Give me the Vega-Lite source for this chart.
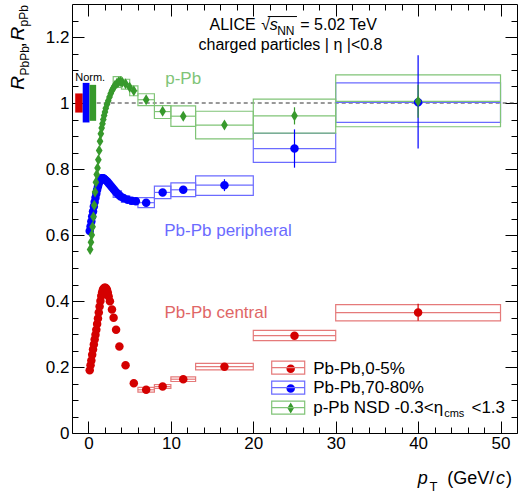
{
  "$schema": "https://vega.github.io/schema/vega-lite/v6.json",
  "width": 445,
  "height": 429,
  "autosize": {"type": "none"},
  "padding": {"left": 72, "top": 4, "right": 2, "bottom": 60},
  "config": {
    "font": "Liberation Sans",
    "view": {"stroke": "#000", "strokeWidth": 1},
    "axis": {"grid": false, "domain": false, "labels": false, "ticks": true, "tickColor": "#000", "tickWidth": 1, "labelColor": "#000", "labelFontSize": 17, "labelFont": "Liberation Sans", "titleFont": "Liberation Sans", "titleColor": "#000", "titleFontWeight": "normal", "titleAlign": "left", "titleBaseline": "alphabetic"},
    "legend": {"labelFont": "Liberation Sans", "labelColor": "#000"},
    "text": {"font": "Liberation Sans"}
  },
  "datasets": {
    "pts": [
      {"series":"Pb-Pb,0-5%","pt":0.15,"r":0.19},{"series":"Pb-Pb,0-5%","pt":0.25,"r":0.205},{"series":"Pb-Pb,0-5%","pt":0.35,"r":0.22},{"series":"Pb-Pb,0-5%","pt":0.45,"r":0.237},{"series":"Pb-Pb,0-5%","pt":0.55,"r":0.253},{"series":"Pb-Pb,0-5%","pt":0.65,"r":0.268},{"series":"Pb-Pb,0-5%","pt":0.75,"r":0.283},{"series":"Pb-Pb,0-5%","pt":0.85,"r":0.298},{"series":"Pb-Pb,0-5%","pt":0.95,"r":0.313},{"series":"Pb-Pb,0-5%","pt":1.05,"r":0.33},{"series":"Pb-Pb,0-5%","pt":1.15,"r":0.347},{"series":"Pb-Pb,0-5%","pt":1.25,"r":0.365},{"series":"Pb-Pb,0-5%","pt":1.35,"r":0.383},{"series":"Pb-Pb,0-5%","pt":1.45,"r":0.4},{"series":"Pb-Pb,0-5%","pt":1.55,"r":0.415},{"series":"Pb-Pb,0-5%","pt":1.65,"r":0.426},{"series":"Pb-Pb,0-5%","pt":1.75,"r":0.434},{"series":"Pb-Pb,0-5%","pt":1.85,"r":0.438},{"series":"Pb-Pb,0-5%","pt":1.95,"r":0.44},{"series":"Pb-Pb,0-5%","pt":2.05,"r":0.44},{"series":"Pb-Pb,0-5%","pt":2.15,"r":0.438},{"series":"Pb-Pb,0-5%","pt":2.25,"r":0.433},{"series":"Pb-Pb,0-5%","pt":2.35,"r":0.425},{"series":"Pb-Pb,0-5%","pt":2.45,"r":0.414},{"series":"Pb-Pb,0-5%","pt":2.6,"r":0.399},{"series":"Pb-Pb,0-5%","pt":2.85,"r":0.374},{"series":"Pb-Pb,0-5%","pt":3.05,"r":0.349},{"series":"Pb-Pb,0-5%","pt":3.35,"r":0.313},{"series":"Pb-Pb,0-5%","pt":3.75,"r":0.262},{"series":"Pb-Pb,0-5%","pt":4.5,"r":0.205},{"series":"Pb-Pb,0-5%","pt":5.5,"r":0.151},{"series":"Pb-Pb,0-5%","pt":7,"r":0.131},{"series":"Pb-Pb,0-5%","pt":9,"r":0.141},{"series":"Pb-Pb,0-5%","pt":11.5,"r":0.163},{"series":"Pb-Pb,0-5%","pt":16.5,"r":0.201},{"series":"Pb-Pb,0-5%","pt":25,"r":0.295},{"series":"Pb-Pb,0-5%","pt":40,"r":0.365},
      {"series":"Pb-Pb,70-80%","pt":0.15,"r":0.612},{"series":"Pb-Pb,70-80%","pt":0.25,"r":0.626},{"series":"Pb-Pb,70-80%","pt":0.35,"r":0.641},{"series":"Pb-Pb,70-80%","pt":0.45,"r":0.656},{"series":"Pb-Pb,70-80%","pt":0.55,"r":0.671},{"series":"Pb-Pb,70-80%","pt":0.65,"r":0.686},{"series":"Pb-Pb,70-80%","pt":0.75,"r":0.7},{"series":"Pb-Pb,70-80%","pt":0.85,"r":0.713},{"series":"Pb-Pb,70-80%","pt":0.95,"r":0.725},{"series":"Pb-Pb,70-80%","pt":1.05,"r":0.737},{"series":"Pb-Pb,70-80%","pt":1.15,"r":0.747},{"series":"Pb-Pb,70-80%","pt":1.25,"r":0.756},{"series":"Pb-Pb,70-80%","pt":1.35,"r":0.763},{"series":"Pb-Pb,70-80%","pt":1.45,"r":0.768},{"series":"Pb-Pb,70-80%","pt":1.55,"r":0.771},{"series":"Pb-Pb,70-80%","pt":1.65,"r":0.772},{"series":"Pb-Pb,70-80%","pt":1.75,"r":0.772},{"series":"Pb-Pb,70-80%","pt":1.85,"r":0.771},{"series":"Pb-Pb,70-80%","pt":1.95,"r":0.769},{"series":"Pb-Pb,70-80%","pt":2.1,"r":0.766},{"series":"Pb-Pb,70-80%","pt":2.3,"r":0.761},{"series":"Pb-Pb,70-80%","pt":2.5,"r":0.755},{"series":"Pb-Pb,70-80%","pt":2.7,"r":0.749},{"series":"Pb-Pb,70-80%","pt":2.9,"r":0.743},{"series":"Pb-Pb,70-80%","pt":3.1,"r":0.737},{"series":"Pb-Pb,70-80%","pt":3.3,"r":0.731},{"series":"Pb-Pb,70-80%","pt":3.5,"r":0.726},{"series":"Pb-Pb,70-80%","pt":3.7,"r":0.721},{"series":"Pb-Pb,70-80%","pt":3.9,"r":0.717},{"series":"Pb-Pb,70-80%","pt":4.25,"r":0.712},{"series":"Pb-Pb,70-80%","pt":4.75,"r":0.707},{"series":"Pb-Pb,70-80%","pt":5.25,"r":0.704},{"series":"Pb-Pb,70-80%","pt":5.75,"r":0.702},{"series":"Pb-Pb,70-80%","pt":7,"r":0.698},{"series":"Pb-Pb,70-80%","pt":9,"r":0.729},{"series":"Pb-Pb,70-80%","pt":11.5,"r":0.737},{"series":"Pb-Pb,70-80%","pt":16.5,"r":0.751},{"series":"Pb-Pb,70-80%","pt":25,"r":0.862},{"series":"Pb-Pb,70-80%","pt":40,"r":1.002},
      {"series":"p-Pb NSD -0.3<η<1.3","pt":0.2,"r":0.556},{"series":"p-Pb NSD -0.3<η<1.3","pt":0.3,"r":0.578},{"series":"p-Pb NSD -0.3<η<1.3","pt":0.4,"r":0.6},{"series":"p-Pb NSD -0.3<η<1.3","pt":0.5,"r":0.625},{"series":"p-Pb NSD -0.3<η<1.3","pt":0.6,"r":0.655},{"series":"p-Pb NSD -0.3<η<1.3","pt":0.7,"r":0.69},{"series":"p-Pb NSD -0.3<η<1.3","pt":0.8,"r":0.73},{"series":"p-Pb NSD -0.3<η<1.3","pt":0.9,"r":0.76},{"series":"p-Pb NSD -0.3<η<1.3","pt":1.0,"r":0.783},{"series":"p-Pb NSD -0.3<η<1.3","pt":1.1,"r":0.803},{"series":"p-Pb NSD -0.3<η<1.3","pt":1.2,"r":0.828},{"series":"p-Pb NSD -0.3<η<1.3","pt":1.3,"r":0.856},{"series":"p-Pb NSD -0.3<η<1.3","pt":1.4,"r":0.884},{"series":"p-Pb NSD -0.3<η<1.3","pt":1.5,"r":0.907},{"series":"p-Pb NSD -0.3<η<1.3","pt":1.6,"r":0.924},{"series":"p-Pb NSD -0.3<η<1.3","pt":1.7,"r":0.937},{"series":"p-Pb NSD -0.3<η<1.3","pt":1.8,"r":0.95},{"series":"p-Pb NSD -0.3<η<1.3","pt":1.9,"r":0.962},{"series":"p-Pb NSD -0.3<η<1.3","pt":2.0,"r":0.973},{"series":"p-Pb NSD -0.3<η<1.3","pt":2.1,"r":0.984},{"series":"p-Pb NSD -0.3<η<1.3","pt":2.25,"r":0.996},{"series":"p-Pb NSD -0.3<η<1.3","pt":2.4,"r":1.007},{"series":"p-Pb NSD -0.3<η<1.3","pt":2.55,"r":1.018},{"series":"p-Pb NSD -0.3<η<1.3","pt":2.7,"r":1.029},{"series":"p-Pb NSD -0.3<η<1.3","pt":2.85,"r":1.038},{"series":"p-Pb NSD -0.3<η<1.3","pt":3.0,"r":1.045},{"series":"p-Pb NSD -0.3<η<1.3","pt":3.2,"r":1.053},{"series":"p-Pb NSD -0.3<η<1.3","pt":3.45,"r":1.06},{"series":"p-Pb NSD -0.3<η<1.3","pt":3.65,"r":1.064},{"series":"p-Pb NSD -0.3<η<1.3","pt":3.85,"r":1.065},{"series":"p-Pb NSD -0.3<η<1.3","pt":4.1,"r":1.063},{"series":"p-Pb NSD -0.3<η<1.3","pt":4.5,"r":1.058},{"series":"p-Pb NSD -0.3<η<1.3","pt":5.0,"r":1.048},{"series":"p-Pb NSD -0.3<η<1.3","pt":5.5,"r":1.037},{"series":"p-Pb NSD -0.3<η<1.3","pt":7,"r":1.01},{"series":"p-Pb NSD -0.3<η<1.3","pt":9,"r":0.975},{"series":"p-Pb NSD -0.3<η<1.3","pt":11.5,"r":0.96},{"series":"p-Pb NSD -0.3<η<1.3","pt":16.5,"r":0.933},{"series":"p-Pb NSD -0.3<η<1.3","pt":25,"r":0.961},{"series":"p-Pb NSD -0.3<η<1.3","pt":40,"r":1.005}
    ],
    "sys": [
      {"series":"Pb-Pb,0-5%","pt_lo":6,"pt_hi":8,"r":0.131,"r_lo":0.124,"r_hi":0.138},
      {"series":"Pb-Pb,0-5%","pt_lo":8,"pt_hi":10,"r":0.141,"r_lo":0.135,"r_hi":0.147},
      {"series":"Pb-Pb,0-5%","pt_lo":10,"pt_hi":13,"r":0.163,"r_lo":0.156,"r_hi":0.17},
      {"series":"Pb-Pb,0-5%","pt_lo":13,"pt_hi":20,"r":0.201,"r_lo":0.191,"r_hi":0.211},
      {"series":"Pb-Pb,0-5%","pt_lo":20,"pt_hi":30,"r":0.295,"r_lo":0.28,"r_hi":0.311},
      {"series":"Pb-Pb,0-5%","pt_lo":30,"pt_hi":50,"r":0.365,"r_lo":0.34,"r_hi":0.389},
      {"series":"Pb-Pb,70-80%","pt_lo":3,"pt_hi":4,"r":0.724,"r_lo":0.714,"r_hi":0.734},
      {"series":"Pb-Pb,70-80%","pt_lo":4,"pt_hi":5,"r":0.709,"r_lo":0.699,"r_hi":0.719},
      {"series":"Pb-Pb,70-80%","pt_lo":5,"pt_hi":6,"r":0.703,"r_lo":0.693,"r_hi":0.713},
      {"series":"Pb-Pb,70-80%","pt_lo":6,"pt_hi":8,"r":0.698,"r_lo":0.683,"r_hi":0.713},
      {"series":"Pb-Pb,70-80%","pt_lo":8,"pt_hi":10,"r":0.729,"r_lo":0.71,"r_hi":0.748},
      {"series":"Pb-Pb,70-80%","pt_lo":10,"pt_hi":13,"r":0.737,"r_lo":0.716,"r_hi":0.758},
      {"series":"Pb-Pb,70-80%","pt_lo":13,"pt_hi":20,"r":0.751,"r_lo":0.72,"r_hi":0.779},
      {"series":"Pb-Pb,70-80%","pt_lo":20,"pt_hi":30,"r":0.862,"r_lo":0.82,"r_hi":0.908},
      {"series":"Pb-Pb,70-80%","pt_lo":30,"pt_hi":50,"r":1.002,"r_lo":0.941,"r_hi":1.061},
      {"series":"p-Pb NSD -0.3<η<1.3","pt_lo":3,"pt_hi":4,"r":1.062,"r_lo":1.047,"r_hi":1.08},
      {"series":"p-Pb NSD -0.3<η<1.3","pt_lo":4,"pt_hi":5,"r":1.058,"r_lo":1.042,"r_hi":1.072},
      {"series":"p-Pb NSD -0.3<η<1.3","pt_lo":5,"pt_hi":6,"r":1.037,"r_lo":1.022,"r_hi":1.052},
      {"series":"p-Pb NSD -0.3<η<1.3","pt_lo":6,"pt_hi":8,"r":1.01,"r_lo":0.992,"r_hi":1.028},
      {"series":"p-Pb NSD -0.3<η<1.3","pt_lo":8,"pt_hi":10,"r":0.974,"r_lo":0.953,"r_hi":0.992},
      {"series":"p-Pb NSD -0.3<η<1.3","pt_lo":10,"pt_hi":13,"r":0.96,"r_lo":0.929,"r_hi":0.991},
      {"series":"p-Pb NSD -0.3<η<1.3","pt_lo":13,"pt_hi":20,"r":0.933,"r_lo":0.891,"r_hi":0.975},
      {"series":"p-Pb NSD -0.3<η<1.3","pt_lo":20,"pt_hi":30,"r":0.961,"r_lo":0.909,"r_hi":1.012},
      {"series":"p-Pb NSD -0.3<η<1.3","pt_lo":30,"pt_hi":50,"r":1.005,"r_lo":0.928,"r_hi":1.085}
    ],
    "stat": [
      {"series":"Pb-Pb,0-5%","pt":40,"lo":0.34,"hi":0.392},
      {"series":"Pb-Pb,70-80%","pt":11.5,"lo":0.729,"hi":0.745},
      {"series":"Pb-Pb,70-80%","pt":16.5,"lo":0.733,"hi":0.769},
      {"series":"Pb-Pb,70-80%","pt":25,"lo":0.804,"hi":0.92},
      {"series":"Pb-Pb,70-80%","pt":40,"lo":0.862,"hi":1.145},
      {"series":"p-Pb NSD -0.3<η<1.3","pt":16.5,"lo":0.922,"hi":0.944},
      {"series":"p-Pb NSD -0.3<η<1.3","pt":25,"lo":0.935,"hi":0.987},
      {"series":"p-Pb NSD -0.3<η<1.3","pt":40,"lo":0.955,"hi":1.055}
    ],
    "norm": [
      {"series":"Pb-Pb,0-5%","x_lo":-1.61,"x_hi":-0.7,"lo":0.971,"hi":1.029},
      {"series":"Pb-Pb,70-80%","x_lo":-0.7,"x_hi":0.12,"lo":0.941,"hi":1.061},
      {"series":"p-Pb NSD -0.3<η<1.3","x_lo":0.12,"x_hi":0.93,"lo":0.946,"hi":1.055}
    ],
    "names": [
      {"series":"p-Pb NSD -0.3<η<1.3","text":"p-Pb","x":9.31,"y":1.058},
      {"series":"Pb-Pb,70-80%","text":"Pb-Pb peripheral","x":9.19,"y":0.598},
      {"series":"Pb-Pb,0-5%","text":"Pb-Pb central","x":9.22,"y":0.348}
    ],
    "txt": [
      {"kind":"main","text":"ALICE","x":14.68,"y":1.222},
      {"kind":"main","text":"√","x":20.96,"y":1.222},
      {"kind":"main","text":"= 5.02 TeV","x":25.7,"y":1.222},
      {"kind":"main","text":"charged particles | η |<0.8","x":13.35,"y":1.1615},
      {"kind":"ital","text":"s","x":22.0,"y":1.222},
      {"kind":"sub","text":"NN","x":22.9,"y":1.207},
      {"kind":"norm","text":"Norm.","x":-1.61,"y":1.068}
    ]
  },
  "layer": [
    {
      "data": {"values": [{}]},
      "mark": {"type": "rule", "strokeDash": [4, 3], "color": "#333", "strokeWidth": 1},
      "encoding": {
        "x": {"datum": 1, "type": "quantitative", "scale": {"domain": [-2, 52], "nice": false, "zero": false}, "axis": null},
        "x2": {"datum": 52},
        "y": {"datum": 1, "type": "quantitative", "scale": {"domain": [0, 1.3], "nice": false, "zero": false}, "axis": null}
      }
    },
    {
      "data": {"name": "norm"},
      "mark": {"type": "rect"},
      "encoding": {
        "x": {"field": "x_lo", "type": "quantitative", "scale": {"domain": [-2, 52], "nice": false, "zero": false},
              "axis": {"orient": "bottom", "ticks": false, "labels": true, "values": [0, 10, 20, 30, 40, 50], "labelPadding": 2, "labelFlush": false,
                       "title": "p", "titleFontStyle": "italic", "titleFontSize": 18, "titleX": 345.3, "titleY": 50}},
        "x2": {"field": "x_hi"},
        "y": {"field": "lo", "type": "quantitative", "scale": {"domain": [0, 1.3], "nice": false, "zero": false},
              "axis": {"orient": "left", "ticks": false, "labels": true, "values": [0, 0.2, 0.4, 0.6, 0.8, 1, 1.2], "format": "~g", "labelPadding": 3,
                       "title": "R", "titleFontStyle": "italic", "titleFontSize": 19, "titleAngle": 270, "titleX": -48.7, "titleY": 85.3}},
        "y2": {"field": "hi"},
        "color": {"field": "series", "type": "nominal", "scale": {"domain": ["Pb-Pb,0-5%", "Pb-Pb,70-80%", "p-Pb NSD -0.3<η<1.3"], "range": ["#d40000", "#0000ff", "#37992c"]}}
      }
    },
    {
      "data": {"name": "sys"},
      "mark": {"type": "rect", "filled": false, "strokeWidth": 1.2},
      "encoding": {
        "x": {"field": "pt_lo", "type": "quantitative", "scale": {"domain": [-2, 52], "nice": false, "zero": false},
              "axis": {"orient": "bottom", "values": [0, 10, 20, 30, 40, 50], "tickSize": -12,
                       "title": "T", "titleFontSize": 13, "titleX": 357, "titleY": 57.5}},
        "x2": {"field": "pt_hi"},
        "y": {"field": "r_lo", "type": "quantitative", "scale": {"domain": [0, 1.3], "nice": false, "zero": false},
              "axis": {"orient": "left", "values": [0, 0.2, 0.4, 0.6, 0.8, 1, 1.2], "tickSize": -12,
                       "title": "PbPb", "titleFontSize": 12, "titleAngle": 270, "titleX": -44, "titleY": 71}},
        "y2": {"field": "r_hi"},
        "stroke": {"field": "series", "type": "nominal", "scale": {"range": ["#e57a7a", "#6b6bff", "#80c477"]},
                   "legend": {"orient": "none", "legendX": 210.2, "legendY": 357.7, "title": null, "padding": 0, "symbolSize": 100,
                              "symbolType": "M-3.3,-1.3H3.3V1.3H-3.3Z M-3.3,0H3.3", "symbolStrokeWidth": 1.2, "symbolFillColor": "transparent",
                              "labelFontSize": 11, "labelOffset": 150, "labelBaseline": "top", "rowPadding": 0, "labelLimit": 400,
                              "labelExpr": "indexof(datum.label, 'η') >= 0 ? 'cms' : ''"}}
      }
    },
    {
      "data": {"name": "sys"},
      "mark": {"type": "rule", "strokeWidth": 1.2},
      "encoding": {
        "x": {"field": "pt_lo", "type": "quantitative", "scale": {"domain": [-2, 52], "nice": false, "zero": false},
              "axis": {"orient": "bottom", "values": [2, 4, 6, 8, 12, 14, 16, 18, 22, 24, 26, 28, 32, 34, 36, 38, 42, 44, 46, 48], "tickSize": -6,
                       "title": "(GeV/", "titleFontSize": 18, "titleX": 374.7, "titleY": 50}},
        "x2": {"field": "pt_hi"},
        "y": {"field": "r", "type": "quantitative", "scale": {"domain": [0, 1.3], "nice": false, "zero": false},
              "axis": {"orient": "left", "values": [0.05, 0.1, 0.15, 0.25, 0.3, 0.35, 0.45, 0.5, 0.55, 0.65, 0.7, 0.75, 0.85, 0.9, 0.95, 1.05, 1.1, 1.15, 1.25], "tickSize": -6,
                       "title": ",", "titleFontSize": 19, "titleAngle": 270, "titleX": -48.7, "titleY": 43}},
        "stroke": {"field": "series", "type": "nominal", "scale": {"range": ["#e57a7a", "#6b6bff", "#80c477"]}}
      }
    },
    {
      "data": {"name": "stat"},
      "mark": {"type": "rule", "strokeWidth": 1.2},
      "encoding": {
        "x": {"field": "pt", "type": "quantitative", "scale": {"domain": [-2, 52], "nice": false, "zero": false},
              "axis": {"orient": "top", "values": [0, 10, 20, 30, 40, 50], "tickSize": -12,
                       "title": "c", "titleFontStyle": "italic", "titleFontSize": 18, "titleX": 423.5, "titleY": 479}},
        "y": {"field": "lo", "type": "quantitative", "scale": {"domain": [0, 1.3], "nice": false, "zero": false},
              "axis": {"orient": "right", "values": [0, 0.2, 0.4, 0.6, 0.8, 1, 1.2], "tickSize": -12,
                       "title": "R", "titleFontStyle": "italic", "titleFontSize": 19, "titleAngle": 270, "titleX": -493.7, "titleY": 36}},
        "y2": {"field": "hi"},
        "color": {"field": "series", "type": "nominal", "scale": {"domain": ["Pb-Pb,0-5%", "Pb-Pb,70-80%", "p-Pb NSD -0.3<η<1.3"], "range": ["#d40000", "#0000ff", "#37992c"]}}
      }
    },
    {
      "data": {"name": "pts"},
      "mark": {"type": "point", "filled": true, "size": 100, "opacity": 1, "strokeWidth": 0},
      "encoding": {
        "x": {"field": "pt", "type": "quantitative", "scale": {"domain": [-2, 52], "nice": false, "zero": false},
              "axis": {"orient": "top", "values": [2, 4, 6, 8, 12, 14, 16, 18, 22, 24, 26, 28, 32, 34, 36, 38, 42, 44, 46, 48], "tickSize": -6,
                       "title": ")", "titleFontSize": 18, "titleX": 433.5, "titleY": 479}},
        "y": {"field": "r", "type": "quantitative", "scale": {"domain": [0, 1.3], "nice": false, "zero": false},
              "axis": {"orient": "right", "values": [0.05, 0.1, 0.15, 0.25, 0.3, 0.35, 0.45, 0.5, 0.55, 0.65, 0.7, 0.75, 0.85, 0.9, 0.95, 1.05, 1.1, 1.15, 1.25], "tickSize": -6,
                       "title": "pPb", "titleFontSize": 12, "titleAngle": 270, "titleX": -489.5, "titleY": 22}},
        "color": {"field": "series", "type": "nominal", "scale": {"domain": ["Pb-Pb,0-5%", "Pb-Pb,70-80%", "p-Pb NSD -0.3<η<1.3"], "range": ["#d40000", "#0000ff", "#37992c"]},
                  "legend": {"orient": "none", "legendX": 210.2, "legendY": 356.2, "title": null, "padding": 0, "symbolSize": 100, "symbolStrokeWidth": 0, "symbolOpacity": 1,
                             "labelFontSize": 17, "labelOffset": 14, "rowPadding": 1.7, "labelLimit": 400,
                             "labelExpr": "replace(datum.label, 'η', 'η\u00a0\u00a0\u00a0\u00a0\u00a0\u00a0')"}},
        "shape": {"field": "series", "type": "nominal", "scale": {"domain": ["Pb-Pb,0-5%", "Pb-Pb,70-80%", "p-Pb NSD -0.3<η<1.3"], "range": ["M-0.85,0A0.85,0.85,0,1,1,0.85,0A0.85,0.85,0,1,1,-0.85,0Z", "M-0.85,0A0.85,0.85,0,1,1,0.85,0A0.85,0.85,0,1,1,-0.85,0Z", "M0,-1.1L0.67,0L0,1.1L-0.67,0Z"]}, "legend": {"title": null}}
      }
    },
    {
      "data": {"values": [{}]},
      "mark": {"type": "rule", "color": "#000", "strokeWidth": 1},
      "encoding": {
        "x": {"datum": 21.75, "type": "quantitative", "scale": {"domain": [-2, 52], "nice": false, "zero": false}, "axis": null},
        "x2": {"datum": 25.3},
        "y": {"datum": 1.262, "type": "quantitative", "scale": {"domain": [0, 1.3], "nice": false, "zero": false}, "axis": null}
      }
    },
    {
      "data": {"name": "names"},
      "mark": {"type": "text", "fontSize": 17, "align": "left", "baseline": "alphabetic"},
      "encoding": {
        "x": {"field": "x", "type": "quantitative", "scale": {"domain": [-2, 52], "nice": false, "zero": false}, "axis": null},
        "y": {"field": "y", "type": "quantitative", "scale": {"domain": [0, 1.3], "nice": false, "zero": false}, "axis": null},
        "text": {"field": "text"},
        "fill": {"field": "series", "type": "nominal", "scale": {"range": ["#e06666", "#6b6bff", "#80c477"]}, "legend": null}
      }
    },
    {
      "data": {"name": "txt"},
      "transform": [{"filter": "datum.kind == 'main'"}],
      "mark": {"type": "text", "fontSize": 16, "align": "left", "baseline": "alphabetic", "color": "#000"},
      "encoding": {
        "x": {"field": "x", "type": "quantitative", "scale": {"domain": [-2, 52], "nice": false, "zero": false}, "axis": null},
        "y": {"field": "y", "type": "quantitative", "scale": {"domain": [0, 1.3], "nice": false, "zero": false}, "axis": null},
        "text": {"field": "text"}
      }
    },
    {
      "data": {"name": "txt"},
      "transform": [{"filter": "datum.kind == 'ital'"}],
      "mark": {"type": "text", "fontSize": 16, "fontStyle": "italic", "align": "left", "baseline": "alphabetic", "color": "#000"},
      "encoding": {
        "x": {"field": "x", "type": "quantitative", "scale": {"domain": [-2, 52], "nice": false, "zero": false}, "axis": null},
        "y": {"field": "y", "type": "quantitative", "scale": {"domain": [0, 1.3], "nice": false, "zero": false}, "axis": null},
        "text": {"field": "text"}
      }
    },
    {
      "data": {"name": "txt"},
      "transform": [{"filter": "datum.kind == 'sub'"}],
      "mark": {"type": "text", "fontSize": 12, "align": "left", "baseline": "alphabetic", "color": "#000"},
      "encoding": {
        "x": {"field": "x", "type": "quantitative", "scale": {"domain": [-2, 52], "nice": false, "zero": false}, "axis": null},
        "y": {"field": "y", "type": "quantitative", "scale": {"domain": [0, 1.3], "nice": false, "zero": false}, "axis": null},
        "text": {"field": "text"}
      }
    },
    {
      "data": {"name": "txt"},
      "transform": [{"filter": "datum.kind == 'norm'"}],
      "mark": {"type": "text", "fontSize": 11, "align": "left", "baseline": "alphabetic", "color": "#000"},
      "encoding": {
        "x": {"field": "x", "type": "quantitative", "scale": {"domain": [-2, 52], "nice": false, "zero": false}, "axis": null},
        "y": {"field": "y", "type": "quantitative", "scale": {"domain": [0, 1.3], "nice": false, "zero": false}, "axis": null},
        "text": {"field": "text"}
      }
    }
  ],
  "resolve": {"axis": {"x": "independent", "y": "independent"}}
}
